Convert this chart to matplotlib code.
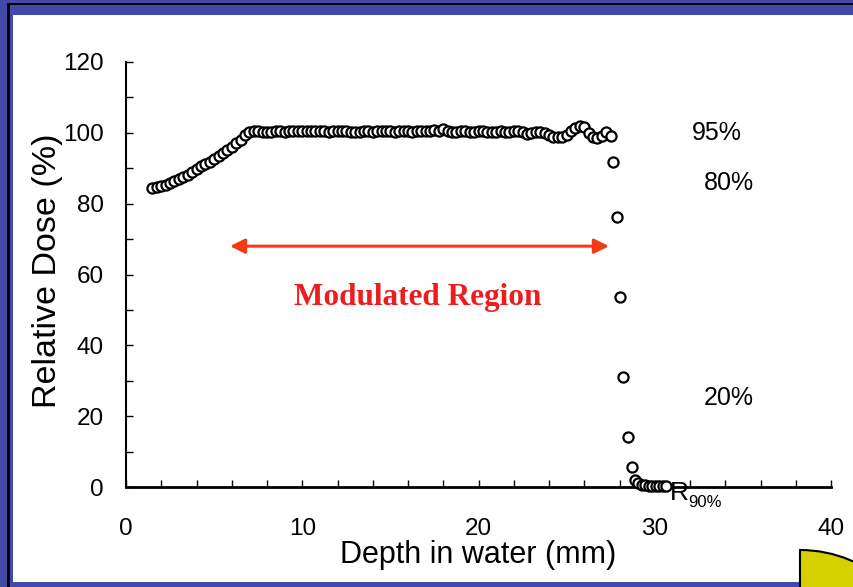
import numpy as np
import matplotlib.pyplot as plt
from matplotlib.patches import Rectangle, Wedge

# depth (mm) and relative dose (%)
depth_rise = [1.5, 1.75, 2.0, 2.25, 2.5, 2.75, 3.0, 3.25, 3.5, 3.75, 4.0, 4.25,
              4.5, 4.75, 5.0, 5.25, 5.5, 5.75, 6.0, 6.25, 6.5, 6.75, 7.0]
dose_rise = [84.3, 84.6, 85.0, 85.4, 85.8, 86.3, 86.9, 87.5, 88.2, 89.0, 89.7, 90.5,
             91.2, 91.9, 92.7, 93.5, 94.3, 95.2, 96.1, 97.0, 98.1, 99.4, 100.2]

depth_plateau = [7.25, 7.5, 7.75, 8.0, 8.25, 8.5, 8.75, 9.0, 9.25, 9.5, 9.75, 10.0,
                 10.25, 10.5, 10.75, 11.0, 11.25, 11.5, 11.75, 12.0, 12.25, 12.5,
                 12.75, 13.0, 13.25, 13.5, 13.75, 14.0, 14.25, 14.5, 14.75, 15.0,
                 15.25, 15.5, 15.75, 16.0, 16.25, 16.5, 16.75, 17.0, 17.25, 17.5,
                 17.75, 18.0, 18.25, 18.5, 18.75, 19.0, 19.25, 19.5, 19.75, 20.0,
                 20.25, 20.5, 20.75, 21.0, 21.25, 21.5, 21.75, 22.0, 22.25, 22.5,
                 22.75, 23.0, 23.25]
dose_plateau = [100.5, 100.4, 100.2, 100.1, 100.3, 100.5, 100.4, 100.3, 100.5, 100.6, 100.5, 100.5,
                100.4, 100.6, 100.5, 100.5, 100.4, 100.3, 100.4, 100.5, 100.6, 100.5,
                100.2, 100.1, 100.3, 100.5, 100.5, 100.2, 100.4, 100.5, 100.6, 100.5,
                100.3, 100.4, 100.6, 100.5, 100.3, 100.4, 100.5, 100.5, 100.6, 100.7,
                100.6, 101.0, 100.6, 100.3, 100.2, 100.4, 100.5, 100.3, 100.2, 100.4,
                100.5, 100.3, 100.1, 100.3, 100.4, 100.2, 100.3, 100.5, 100.4, 100.1,
                99.8, 99.9, 100.1]

depth_wave = [23.5, 23.75, 24.0, 24.25, 24.5, 24.75, 25.0, 25.25, 25.5, 25.75,
              26.0, 26.25, 26.5, 26.75, 27.0, 27.25, 27.5]
dose_wave = [100.2, 100.0, 99.4, 98.9, 98.7, 98.9, 99.5, 100.4, 101.4, 102.0,
             101.6, 100.0, 98.7, 98.6, 99.2, 100.2, 99.2]

depth_fall = [27.65, 27.84, 28.03, 28.22, 28.47, 28.69, 28.88,
              29.05, 29.25, 29.45, 29.65, 29.85, 30.05, 30.25, 30.45, 30.65]
dose_fall = [91.9, 76.1, 53.7, 31.0, 14.2, 5.7, 2.0,
             1.0, 0.6, 0.5, 0.4, 0.4, 0.4, 0.3, 0.3, 0.3]

level_labels = ['95%', '80%', '20%']
level_x = [33.5, 34.2, 34.2]
level_y = [100, 85.8, 25.1]

depth = depth_rise + depth_plateau + depth_wave + depth_fall
dose = dose_rise + dose_plateau + dose_wave + dose_fall

plt.rcParams['font.family'] = ['Liberation Sans', 'DejaVu Sans']

fig = plt.figure(figsize=(8.54, 5.87), dpi=100, facecolor='#4249a8')
W, H = 854, 587

# slide frame: black line, white panel, yellow corner disk (pixel units -> inches)
def px_rect(x0, y0, x1, y1, color, z):
    fig.patches.append(Rectangle((x0 / 100, (H - y1) / 100), (x1 - x0) / 100, (y1 - y0) / 100,
                                 transform=fig.dpi_scale_trans, facecolor=color,
                                 edgecolor='none', zorder=z))

px_rect(7, 3, 10, 587, 'black', -3)
px_rect(7, 3, 854, 5, 'black', -3)
px_rect(13, 15, 854, 582, 'white', -2)

ax = fig.add_axes([126 / W, 1 - 487 / H, 705 / W, 425 / H])
ax.set_facecolor('none')
ax.set_zorder(1)

fig.patches.append(Wedge((800 / 100, (H - 680) / 100), 1.30, 0, 90,
                         transform=fig.dpi_scale_trans, facecolor='#d6d000',
                         edgecolor='black', linewidth=1.5, zorder=5))

ax.plot(depth, dose, linestyle='none', marker='o', markersize=7.3,
        markerfacecolor='white', markeredgecolor='black', markeredgewidth=1.6,
        clip_on=False, zorder=3)

ax.set_xlim(0, 40)
ax.set_ylim(0, 120)
ax.set_xticks([0, 10, 20, 30, 40])
ax.set_xticks(np.arange(0, 41, 2), minor=True)
ax.set_yticks([0, 20, 40, 60, 80, 100, 120])
ax.set_yticks(np.arange(0, 121, 10), minor=True)
ax.tick_params(which='both', direction='in', length=5, width=1, color='black')
ax.tick_params(axis='x', which='major', labelsize=17.5, pad=22)
ax.tick_params(axis='y', which='major', labelsize=17.5, pad=16)

ax.spines['top'].set_visible(False)
ax.spines['right'].set_visible(False)
ax.spines['bottom'].set_linewidth(2)
ax.spines['left'].set_linewidth(1.5)

ax.set_xlabel('Depth in water (mm)', fontsize=22, va='center')
ax.xaxis.set_label_coords(0.4993, -0.161)
ax.set_ylabel('Relative Dose (%)', fontsize=24.5)
ax.yaxis.set_label_coords(-0.09, 0.51)

for lab, xv, yv in zip(level_labels, level_x, level_y):
    ax.text(xv, yv, lab, fontsize=18, ha='center', va='center')

ax.text(30.87, -1.7, 'R', fontsize=19, ha='left', va='center', clip_on=False)
ax.text(31.9, -4.5, '90%', fontsize=12, ha='left', va='center', clip_on=False)

ax.annotate('', xy=(27.4, 68), xytext=(5.9, 68),
            arrowprops=dict(arrowstyle='<|-|>', color='#f53a14', lw=2.2,
                            mutation_scale=22, shrinkA=0, shrinkB=0))
ax.text(16.57, 53.6, 'Modulated Region', fontsize=22.5, fontweight='bold',
        family='Liberation Serif', color='#ee1c1c', ha='center', va='center')

fig.savefig('out.png', dpi=100, facecolor=fig.get_facecolor())
